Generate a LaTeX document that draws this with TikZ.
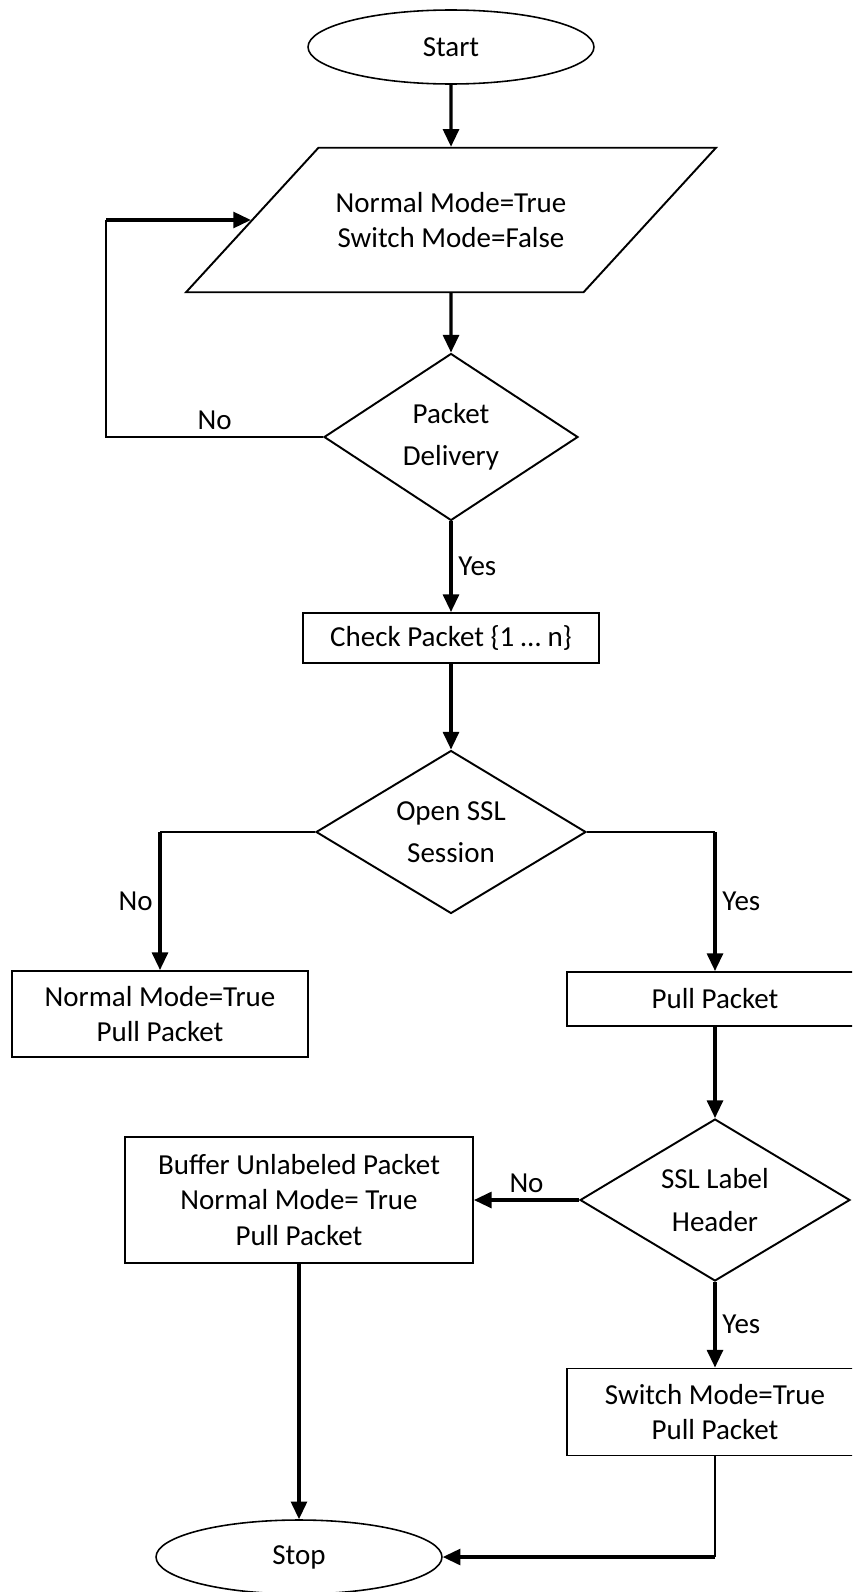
\documentclass[tikz,border=0pt]{standalone}
\usepackage{fontspec}
\setmainfont{Carlito}
\usetikzlibrary{shapes.geometric,arrows.meta}

\begin{document}
\begin{tikzpicture}[x=0.02cm,y=-0.02cm,
    every node/.style={font=\fontsize{16.5}{20}\selectfont},
    term/.style={draw,ellipse,line width=0.9pt,minimum width=5.72cm,minimum height=1.48cm,inner sep=0pt},
    io/.style={draw,trapezium,trapezium left angle=47.5,trapezium right angle=132.5,
      trapezium stretches body,line width=1.1pt,minimum width=10.6cm,minimum height=2.88cm,
      inner xsep=0pt,inner ysep=0.89cm,align=center},
    decision/.style={draw,diamond,aspect=1.6,line width=1.1pt,inner sep=0pt,align=center,
      font=\fontsize{16.5}{24}\selectfont},
    process/.style={draw,rectangle,line width=1.1pt,inner sep=0pt,align=center},
    link/.style={line width=1.1pt},
    flow/.style={line width=1.8pt,-{Triangle[width=9pt,length=10pt]}}]
  \useasboundingbox (0,0) rectangle (852,1592);
  \clip (0,0) rectangle (852,1592);

  % blocks
  \node[term] (start) at (451,47) {Start};
  \node[io] (init) at (451,220) {Normal Mode=True\\Switch Mode=False};
  \node[decision,minimum width=5.08cm,minimum height=3.34cm] (delivery) at (451,437) {Packet\\Delivery};
  \node[process,minimum width=5.92cm,minimum height=1cm] (check) at (451,638) {Check Packet \{1 … n\}};
  \node[decision,minimum width=5.4cm,minimum height=3.26cm] (session) at (451,832) {Open SSL\\Session};
  \node[process,minimum width=5.92cm,minimum height=1.72cm] (normal) at (160,1014) {Normal Mode=True\\Pull Packet};
  \node[process,minimum width=5.92cm,minimum height=1.08cm] (pull) at (715,999) {Pull Packet};
  \node[decision,minimum width=5.4cm,minimum height=3.24cm] (header) at (715,1200) {SSL Label\\Header};
  \node[process,minimum width=6.96cm,minimum height=2.52cm] (buffer) at (299,1200) {Buffer Unlabeled Packet\\Normal Mode= True\\Pull Packet};
  \node[process,minimum width=5.92cm,minimum height=1.74cm] (switch) at (715,1412) {Switch Mode=True\\Pull Packet};
  \node[term] (stop) at (299,1557) {Stop};

  % corners of the elbow lines
  \coordinate (loop) at (106,437);
  \coordinate (nobranch) at (normal.north |- session.west);
  \coordinate (yesbranch) at (pull.north |- session.east);
  \coordinate (corner) at (switch.south |- stop.east);

  % connectors
  \draw[flow] (start) -- (init);
  \draw[flow] (init) -- (delivery);
  \draw[link] (delivery.west) -- node[above]{No} (loop) -- (loop |- init.west);
  \draw[flow] (loop |- init.west) -- (init.west);
  \draw[flow] (delivery) -- node[right]{Yes} (check);
  \draw[flow] (check) -- (session);
  \draw[link] (session.west) -- (nobranch);
  \draw[flow] (nobranch) -- node[left]{No} (normal);
  \draw[link] (session.east) -- (yesbranch);
  \draw[flow] (yesbranch) -- node[right]{Yes} (pull);
  \draw[flow] (pull) -- (header);
  \draw[flow] (header) -- node[above]{No} (buffer);
  \draw[flow] (header) -- node[right]{Yes} (switch);
  \draw[flow] (buffer) -- (stop);
  \draw[link] (switch) -- (corner);
  \draw[flow] (corner) -- (stop);
\end{tikzpicture}
\end{document}
